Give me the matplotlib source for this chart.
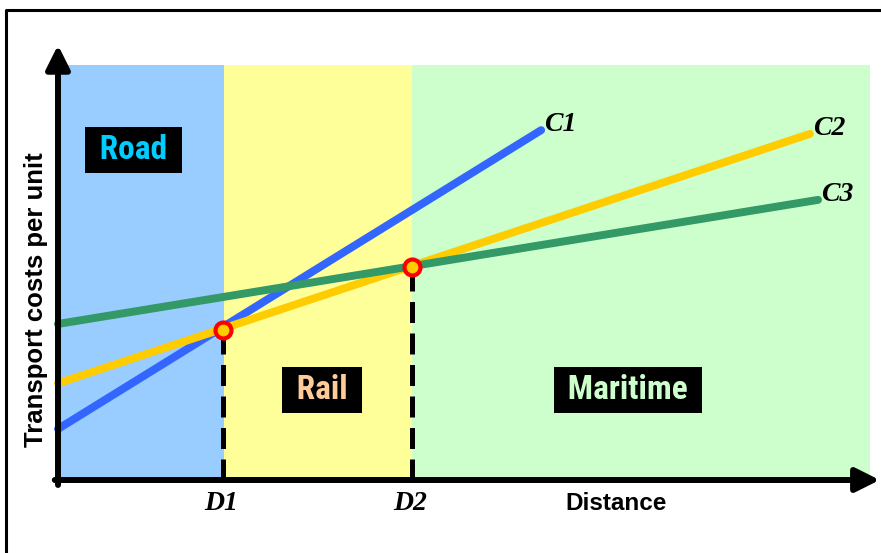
import matplotlib
matplotlib.use("Agg")
import matplotlib.pyplot as plt
from matplotlib.lines import Line2D

# ---- data (distance 0-100, cost per unit 0-100) ----
modes = ["Road", "Rail", "Maritime"]
mode_bounds = [0, 20.4, 43.6, 100]
mode_colors = ["#99CCFF", "#FFFF99", "#CCFFCC"]
mode_text_colors = ["#00CCFF", "#FFCC99", "#CCFFCC"]
mode_label_x = [9.3, 32.5, 70.2]
mode_label_y = [79.5, 21.7, 21.7]

curve_names = ["C1", "C2", "C3"]
curve_x = [[0, 59.5], [0, 92.6], [0, 93.6]]
curve_y = [[12.3, 84.3], [23.3, 83.4], [37.6, 67.5]]
curve_colors = ["#3366FF", "#FFCC00", "#339966"]

break_names = ["D1", "D2"]
break_x = [20.3, 43.6]
break_y = [36.1, 51.3]

fig = plt.figure(figsize=(8.81, 5.53), dpi=100)
W, H = 881, 553
ax = fig.add_axes([58 / W, (H - 480) / H, 812 / W, 415 / H])
ax.set_xlim(0, 100)
ax.set_ylim(0, 100)
ax.axis("off")

narrow = ["Roboto Condensed", "PT Sans Narrow", "DejaVu Sans"]
serif = ["Liberation Serif", "DejaVu Serif"]
sans = ["Liberation Sans", "DejaVu Sans"]

# mode regions
for i, m in enumerate(modes):
    ax.axvspan(mode_bounds[i], mode_bounds[i + 1], color=mode_colors[i], lw=0, zorder=0)
    ax.text(mode_label_x[i], mode_label_y[i], " " + m + " ", ha="center", va="center",
            color=mode_text_colors[i], fontsize=24, fontweight="bold", family=narrow,
            bbox=dict(boxstyle="square,pad=0.2", fc="black", ec="none"), zorder=6)

# dashed break lines
for bx, by in zip(break_x, break_y):
    ax.plot([bx, bx], [0, by], color="black", lw=3.6, dashes=(4.2, 2.1), zorder=2,
            clip_on=False)

# cost curves
for name, xs, ys, c in zip(curve_names, curve_x, curve_y, curve_colors):
    ax.plot(xs, ys, color=c, lw=5.7, solid_capstyle="round", zorder=3, clip_on=False)
    ax.annotate(name, xy=(xs[-1], ys[-1]), xytext=(2, 4), textcoords="offset points",
                ha="left", va="center", fontsize=20, fontweight="bold", style="italic",
                family=serif, annotation_clip=False)

# break points
ax.plot(break_x, break_y, "o", ms=11.5, mfc="#FFCC00", mec="#FF0000", mew=3,
        zorder=5, clip_on=False)
for name, bx in zip(break_names, break_x):
    ax.text(bx - 0.2, -5.6, name, ha="center", va="center", fontsize=20, fontweight="bold",
            style="italic", family=serif, clip_on=False)

# axes arrows
arrow = dict(arrowstyle="-|>,head_length=0.9,head_width=0.45", lw=4.3, color="black",
             mutation_scale=16, shrinkA=0, shrinkB=0)
ax.annotate("", xy=(0, 104.8), xytext=(0, -1.2), arrowprops=arrow, annotation_clip=False,
            zorder=7)
ax.annotate("", xy=(101.2, 0), xytext=(-0.4, 0), arrowprops=arrow, annotation_clip=False,
            zorder=7)

# axis labels
fig.text(616 / W, 1 - 504 / H, "Distance", ha="center", va="center", fontsize=17.5,
         fontweight="bold", family=sans)
fig.text(36 / W, 1 - 300 / H, "Transport costs per unit", ha="center", va="center",
         rotation=90, fontsize=18.5, fontweight="bold", family=sans)

# frame
fig.add_artist(Line2D([6 / W, 6 / W, 1.02], [-0.02, 1 - 10 / H, 1 - 10 / H],
                      transform=fig.transFigure, lw=2.2, color="black"))

fig.savefig("out.png", dpi=100)
